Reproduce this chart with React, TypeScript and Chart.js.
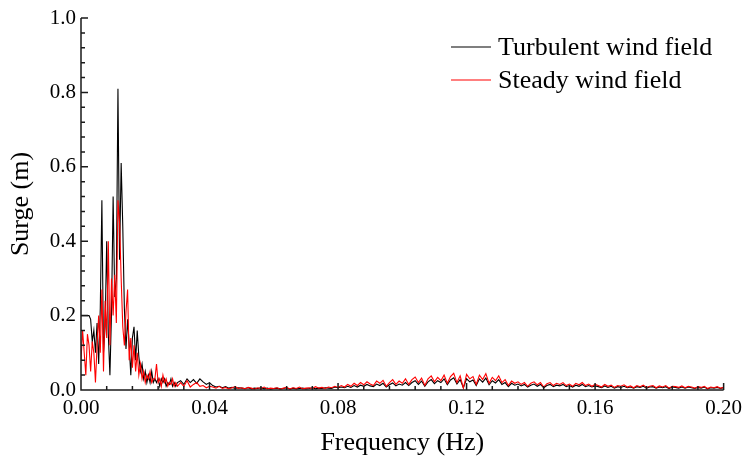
import React, { useEffect, useRef } from "react";
import { Chart, registerables } from "chart.js";

Chart.register(...registerables);

// Frequency grid: fine step for the low band, coarser step for the tail
const LOW_STEP = 0.0005; // Hz, 0 .. 0.030
const TAIL_START = 0.031;
const TAIL_STEP = 0.001; // Hz, 0.031 .. 0.200

const turbulentLow = [
  0.2, 0.2, 0.2, 0.2, 0.2, 0.2, 0.19, 0.13, 0.16, 0.1,
  0.18, 0.07, 0.22, 0.51, 0.1, 0.17, 0.4, 0.15, 0.04, 0.21,
  0.52, 0.25, 0.3, 0.81, 0.35, 0.61, 0.44, 0.22, 0.11, 0.19,
  0.12, 0.04, 0.14, 0.17, 0.08, 0.16, 0.09, 0.05, 0.07, 0.03,
  0.05, 0.02, 0.04, 0.02, 0.05, 0.02, 0.03, 0.02, 0.03, 0.01,
  0.03, 0.02, 0.03, 0.01, 0.02, 0.015, 0.03, 0.01, 0.02, 0.01,
  0.02,
];
const steadyLow = [
  0.08, 0.16, 0.1, 0.04, 0.15, 0.12, 0.05, 0.13, 0.1, 0.02,
  0.12, 0.2, 0.1, 0.27, 0.05, 0.24, 0.14, 0.4, 0.12, 0.3,
  0.2, 0.31, 0.18, 0.51, 0.45, 0.3, 0.17, 0.12, 0.21, 0.27,
  0.08, 0.14, 0.06, 0.12, 0.05, 0.1, 0.04, 0.07, 0.03, 0.05,
  0.02, 0.04, 0.03, 0.05, 0.02, 0.03, 0.03, 0.07, 0.02, 0.03,
  0.01, 0.04, 0.02, 0.03, 0.01, 0.02, 0.015, 0.03, 0.01, 0.02,
  0.01,
];

const turbulentTail = [
  0.025, 0.015, 0.03, 0.02, 0.028, 0.018, 0.03, 0.022, 0.015, 0.02,
  0.012, 0.008, 0.01, 0.006, 0.009, 0.005, 0.007, 0.004, 0.006, 0.005,
  0.004, 0.006, 0.003, 0.005, 0.004, 0.006, 0.003, 0.005, 0.002, 0.004,
  0.005, 0.003, 0.004, 0.006, 0.002, 0.005, 0.003, 0.004, 0.005, 0.003,
  0.004, 0.006, 0.003, 0.005, 0.004, 0.006, 0.005, 0.004, 0.008, 0.006,
  0.008, 0.006, 0.01, 0.007, 0.012, 0.008, 0.013, 0.01, 0.015, 0.011,
  0.009, 0.016, 0.012, 0.018, 0.008, 0.014, 0.019, 0.011, 0.016, 0.013,
  0.02, 0.012, 0.02, 0.025, 0.015, 0.024, 0.01, 0.022, 0.028, 0.017,
  0.025, 0.02, 0.03, 0.014, 0.027, 0.033, 0.016, 0.028, 0.006, 0.03,
  0.022, 0.027, 0.012, 0.03, 0.021, 0.032, 0.014, 0.025, 0.019, 0.028,
  0.015, 0.02, 0.009, 0.018, 0.013, 0.016, 0.011, 0.015, 0.008, 0.013,
  0.016, 0.01, 0.015, 0.006, 0.012, 0.015, 0.009, 0.013, 0.011, 0.015,
  0.009, 0.012, 0.008, 0.013, 0.01, 0.015, 0.009, 0.012, 0.008, 0.011,
  0.009, 0.006, 0.011, 0.007, 0.01, 0.005, 0.009, 0.007, 0.01, 0.006,
  0.008, 0.005, 0.009, 0.007, 0.01, 0.005, 0.008, 0.009, 0.005, 0.008,
  0.006, 0.009, 0.004, 0.008, 0.007, 0.005, 0.008, 0.005, 0.008, 0.006,
  0.004, 0.007, 0.005, 0.008, 0.003, 0.006, 0.005, 0.007, 0.004, 0.006,
];
const steadyTail = [
  0.02, 0.01, 0.025, 0.008, 0.015, 0.02, 0.01, 0.012, 0.006, 0.01,
  0.008, 0.005, 0.01, 0.004, 0.007, 0.003, 0.006, 0.009, 0.004, 0.006,
  0.003, 0.007, 0.005, 0.002, 0.006, 0.004, 0.008, 0.003, 0.005, 0.004,
  0.006, 0.002, 0.005, 0.007, 0.003, 0.006, 0.004, 0.008, 0.003, 0.005,
  0.006, 0.004, 0.009, 0.005, 0.007, 0.004, 0.008, 0.006, 0.01, 0.007,
  0.012, 0.008, 0.015, 0.01, 0.018, 0.012, 0.02, 0.014, 0.022, 0.016,
  0.012, 0.024, 0.018, 0.026, 0.01, 0.02, 0.028, 0.015, 0.024, 0.018,
  0.03, 0.015, 0.028, 0.035, 0.02, 0.032, 0.012, 0.03, 0.038, 0.022,
  0.034, 0.025, 0.04, 0.018, 0.036, 0.045, 0.02, 0.038, 0.005, 0.042,
  0.03, 0.036, 0.015, 0.04, 0.028, 0.044, 0.018, 0.034, 0.025, 0.038,
  0.02, 0.028, 0.012, 0.024, 0.018, 0.022, 0.015, 0.02, 0.01, 0.018,
  0.022, 0.014, 0.02, 0.008, 0.017, 0.02, 0.012, 0.018, 0.015, 0.02,
  0.012, 0.016, 0.01, 0.018, 0.014, 0.02, 0.012, 0.016, 0.01, 0.015,
  0.012, 0.008, 0.015, 0.01, 0.013, 0.007, 0.012, 0.01, 0.014, 0.008,
  0.011, 0.006, 0.012, 0.009, 0.013, 0.007, 0.01, 0.012, 0.006, 0.011,
  0.008, 0.012, 0.005, 0.01, 0.009, 0.007, 0.011, 0.006, 0.01, 0.008,
  0.005, 0.009, 0.007, 0.01, 0.004, 0.008, 0.006, 0.009, 0.005, 0.007,
];

const xTicks = [0, 0.04, 0.08, 0.12, 0.16, 0.2];
const yTicks = [0, 0.2, 0.4, 0.6, 0.8, 1.0];
const seriesLabels = ["Turbulent wind field", "Steady wind field"];

function buildPoints(low: number[], tail: number[]) {
  const pts: { x: number; y: number }[] = [];
  low.forEach((v, i) => pts.push({ x: +(i * LOW_STEP).toFixed(5), y: v }));
  tail.forEach((v, i) =>
    pts.push({ x: +(TAIL_START + i * TAIL_STEP).toFixed(5), y: v })
  );
  return pts;
}

const FONT = "'Liberation Serif', 'Times New Roman', serif";

const axisTicksPlugin = {
  id: "axisTicks",
  afterDraw(chart: any) {
    const { ctx, chartArea, scales } = chart;
    const x = scales.x;
    const y = scales.y;
    ctx.save();
    ctx.strokeStyle = "#1a1a1a";
    ctx.lineWidth = 1.5;
    ctx.beginPath();
    ctx.moveTo(chartArea.left, chartArea.top);
    ctx.lineTo(chartArea.left, chartArea.bottom);
    ctx.lineTo(chartArea.right, chartArea.bottom);
    for (let i = 0; i < xTicks.length; i++) {
      const px = x.getPixelForValue(xTicks[i]);
      ctx.moveTo(px, chartArea.bottom);
      ctx.lineTo(px, chartArea.bottom - 7);
      if (i < xTicks.length - 1) {
        const d = (xTicks[i + 1] - xTicks[i]) / 5;
        for (let k = 1; k < 5; k++) {
          const mx = x.getPixelForValue(xTicks[i] + d * k);
          ctx.moveTo(mx, chartArea.bottom);
          ctx.lineTo(mx, chartArea.bottom - 4);
        }
      }
    }
    for (let i = 0; i < yTicks.length; i++) {
      const py = y.getPixelForValue(yTicks[i]);
      ctx.moveTo(chartArea.left, py);
      ctx.lineTo(chartArea.left + 7, py);
      if (i < yTicks.length - 1) {
        const d = (yTicks[i + 1] - yTicks[i]) / 5;
        for (let k = 1; k < 5; k++) {
          const my = y.getPixelForValue(yTicks[i] + d * k);
          ctx.moveTo(chartArea.left, my);
          ctx.lineTo(chartArea.left + 4, my);
        }
      }
    }
    ctx.stroke();

    // legend
    const ds = chart.data.datasets;
    const lx0 = 451;
    const lx1 = 491;
    const rows = [47, 80];
    ctx.font = `26px ${FONT}`;
    ctx.textBaseline = "middle";
    ctx.textAlign = "left";
    ds.forEach((d: any, i: number) => {
      ctx.strokeStyle = d.borderColor;
      ctx.lineWidth = 1.2;
      ctx.beginPath();
      ctx.moveTo(lx0, rows[i]);
      ctx.lineTo(lx1, rows[i]);
      ctx.stroke();
      ctx.fillStyle = "#000";
      ctx.fillText(d.label, 498, rows[i] + 1);
    });
    ctx.restore();
  },
};

export default function App() {
  const ref = useRef<HTMLCanvasElement | null>(null);
  useEffect(() => {
    document.body.style.margin = "0";
    const canvas = ref.current;
    if (!canvas) return;
    const chart = new Chart(canvas, {
      type: "line",
      data: {
        datasets: [
          {
            label: seriesLabels[0],
            data: buildPoints(turbulentLow, turbulentTail),
            borderColor: "#000000",
            borderWidth: 1.1,
            pointRadius: 0,
            tension: 0,
            order: 1,
          },
          {
            label: seriesLabels[1],
            data: buildPoints(steadyLow, steadyTail),
            borderColor: "#ff0000",
            borderWidth: 1.1,
            pointRadius: 0,
            tension: 0,
            order: 0,
          },
        ],
      },
      options: {
        responsive: false,
        animation: false,
        layout: { padding: { left: 0, right: 21, top: 18, bottom: 0 } },
        plugins: { legend: { display: false }, tooltip: { enabled: false } },
        scales: {
          x: {
            type: "linear",
            min: 0,
            max: 0.2,
            afterFit: (s: any) => {
              s.height = 73;
            },
            afterBuildTicks: (s: any) => {
              s.ticks = xTicks.map((v) => ({ value: v }));
            },
            grid: { display: false, drawTicks: false },
            border: { display: false },
            ticks: {
              padding: 6,
              color: "#000",
              font: { family: FONT, size: 21 },
              maxRotation: 0,
              autoSkip: false,
              callback: (v: any) => Number(v).toFixed(2),
            },
            title: {
              display: true,
              text: "Frequency (Hz)",
              color: "#000",
              font: { family: FONT, size: 26 },
              padding: { top: 10 },
            },
          },
          y: {
            type: "linear",
            min: 0,
            max: 1,
            afterFit: (s: any) => {
              s.width = 81;
            },
            afterBuildTicks: (s: any) => {
              s.ticks = yTicks.map((v) => ({ value: v }));
            },
            grid: { display: false, drawTicks: false },
            border: { display: false },
            ticks: {
              padding: 5,
              color: "#000",
              font: { family: FONT, size: 21 },
              autoSkip: false,
              callback: (v: any) => Number(v).toFixed(1),
            },
            title: {
              display: true,
              text: "Surge (m)",
              color: "#000",
              font: { family: FONT, size: 26 },
              padding: { top: 6 },
            },
          },
        },
      },
      plugins: [axisTicksPlugin],
    });
    return () => chart.destroy();
  }, []);
  return (
    <div style={{ width: 748, height: 463 }}>
      <canvas ref={ref} width={748} height={463} style={{ display: "block" }} />
    </div>
  );
}
